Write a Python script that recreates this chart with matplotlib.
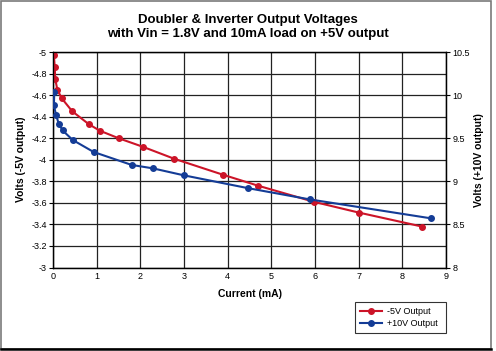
import matplotlib
matplotlib.use("Agg")
import matplotlib.pyplot as plt
from matplotlib.lines import Line2D
from matplotlib.patches import Rectangle

plt.rcParams['font.family'] = ['Liberation Sans', 'DejaVu Sans']

# -5V output (left axis)
neg_current = [0.02, 0.04, 0.05, 0.10, 0.20, 0.44, 0.82, 1.07, 1.50, 2.06, 2.77, 3.90, 4.69, 5.97, 7.00, 8.45]
neg_volts = [-4.97, -4.86, -4.75, -4.65, -4.57, -4.45, -4.33, -4.27, -4.20, -4.12, -4.01, -3.86, -3.76, -3.61, -3.51, -3.38]

# +10V output (right axis)
pos_current = [0.03, 0.02, 0.07, 0.13, 0.22, 0.45, 0.93, 1.80, 2.29, 2.99, 4.47, 5.88, 8.66]
pos_volts = [10.04, 9.88, 9.77, 9.67, 9.59, 9.48, 9.34, 9.19, 9.15, 9.07, 8.92, 8.79, 8.57]

x_ticks = [0, 1, 2, 3, 4, 5, 6, 7, 8, 9]
left_ticks = [-5, -4.8, -4.6, -4.4, -4.2, -4, -3.8, -3.6, -3.4, -3.2, -3]
right_ticks = [8, 8.5, 9, 9.5, 10, 10.5]

RED = '#CC1428'
BLUE = '#143C96'

W, H = 496, 351
fig = plt.figure(figsize=(W / 100, H / 100), dpi=100)
fig.patch.set_facecolor('white')

ax = fig.add_axes([53 / W, 1 - 267.5 / H, (446 - 53) / W, (267.5 - 52) / H])
ax2 = ax.twinx()

ax.set_xlim(0, 9)
ax.set_ylim(-3, -5)
ax2.set_ylim(8, 10.5)

ax.set_xticks(x_ticks)
ax.set_xticklabels([str(t) for t in x_ticks])
ax.set_yticks(left_ticks)
ax.set_yticklabels(['%g' % t for t in left_ticks])
ax2.set_yticks(right_ticks)
ax2.set_yticklabels(['%g' % t for t in right_ticks])

ax.grid(True, color='#222222', linewidth=0.9)
ax.set_axisbelow(True)

for a in (ax, ax2):
    a.tick_params(labelsize=6.5, length=3, width=0.8, pad=1.5, color='black')
    for s in a.spines.values():
        s.set_color('black')
        s.set_linewidth(0.9)
ax.tick_params(axis='x', length=0, pad=3)

l1, = ax.plot(neg_current, neg_volts, color=RED, linewidth=1.5, marker='o', markersize=4, zorder=4)
l2, = ax2.plot(pos_current, pos_volts, color=BLUE, linewidth=1.5, marker='o', markersize=4, zorder=4)

ax.set_xlabel('Current (mA)', fontsize=7.5, fontweight='bold', labelpad=6)
ax.set_ylabel('Volts (-5V output)', fontsize=7.5, fontweight='bold', labelpad=4)
ax2.set_ylabel('Volts (+10V output)', fontsize=7.5, fontweight='bold', labelpad=3, rotation=90)

fig.text(248 / W, 1 - 20 / H, 'Doubler & Inverter Output Voltages', ha='center', va='center',
         fontsize=9.5, fontweight='bold')
fig.text(248 / W, 1 - 34 / H, 'with Vin = 1.8V and 10mA load on +5V output', ha='center', va='center',
         fontsize=9.5, fontweight='bold')

leg = fig.legend([l1, l2], ['-5V Output', '+10V Output'], loc='lower left',
                 bbox_to_anchor=(355 / W, 1 - 333 / H, (446 - 355) / W, (333 - 299) / H),
                 mode='expand', fontsize=6.5, frameon=True, fancybox=False, edgecolor='black',
                 borderpad=0.5, handlelength=2.5, handletextpad=0.5, labelspacing=0.4,
                 borderaxespad=0)
leg.get_frame().set_linewidth(0.8)

# outer frame
fig.add_artist(Rectangle((1 / W, 2 / H), 490 / W, 348 / H, transform=fig.transFigure,
                         fill=False, edgecolor='#7a7a7a', linewidth=1.2))
fig.add_artist(Line2D([1 / W, 491 / W], [2 / H, 2 / H], transform=fig.transFigure,
                      color='black', linewidth=1.8))

fig.savefig('out.png', dpi=100, facecolor='white')
